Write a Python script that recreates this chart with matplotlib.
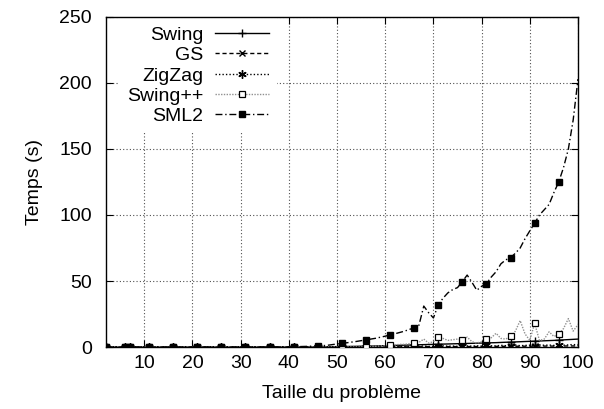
import matplotlib
matplotlib.use("Agg")
import matplotlib.pyplot as plt
import numpy as np

plt.rcParams['font.family'] = ['Liberation Sans', 'DejaVu Sans']

# problem sizes 2..100
x = list(range(2, 101))

sml2 = ([0.0] * 29 + [0.05] * 5 + [0.1] * 5 +
        [0.2, 0.3, 0.4, 0.5, 0.7, 0.8, 1.0, 1.3, 1.8, 2.3,          # 41-50
         2.8, 3.2, 3.7, 4.2, 4.8, 5.3, 6.0, 6.6, 7.4, 8.2,          # 51-60
         9.1, 10.0, 11.0, 12.0, 13.3, 14.5, 16.5, 31.0, 26.0, 22.0,  # 61-70
         32.0, 37.0, 41.0, 43.5, 45.0, 49.5, 54.5, 49.0, 43.0, 46.0,  # 71-80
         48.0, 53.0, 57.0, 63.0, 66.0, 67.7, 71.0, 75.0, 82.0, 88.0,  # 81-90
         93.7, 100.0, 104.0, 108.0, 117.0, 125.0, 136.0, 150.0, 172.0, 203.0])  # 91-100

swingpp = ([0.0] * 54 +
           [0.3, 0.5, 0.6, 0.8, 1.0, 1.5, 1.5, 2.0, 2.0, 2.5,        # 56-65
            3.3, 3.5, 6.0, 3.0, 4.0, 7.3, 6.5, 5.0, 5.5, 6.0,        # 66-75
            5.0, 7.5, 4.0, 3.0, 4.0, 6.1, 7.0, 10.4, 6.5, 6.0,       # 76-85
            8.0, 12.0, 20.0, 10.0, 5.0, 18.0, 5.0, 6.0, 11.5, 8.0,   # 86-95
            9.6, 14.0, 21.5, 12.0, 17.0])                            # 96-100

swing = ([0.0] * 44 +
         [0.1, 0.1, 0.2, 0.2, 0.3, 0.35, 0.4, 0.45, 0.5, 0.6,         # 46-55
          0.65, 0.7, 0.8, 0.9, 1.0, 1.1, 1.2, 1.3, 1.4, 1.5,          # 56-65
          1.6, 1.7, 1.8, 1.9, 2.0, 2.1, 2.2, 2.3, 2.4, 2.5,           # 66-75
          2.6, 2.7, 2.8, 2.9, 3.0, 3.1, 3.2, 3.3, 3.45, 3.6,          # 76-85
          3.7, 3.85, 4.0, 4.15, 4.3, 4.4, 4.55, 4.7, 4.85, 5.0,       # 86-95
          5.2, 5.4, 5.6, 5.8, 6.0])                                   # 96-100

gs = ([0.0] * 59 +
      [0.05, 0.05, 0.1, 0.1, 0.1, 0.15, 0.15, 0.2, 0.2, 0.2,          # 61-70
       0.25, 0.25, 0.3, 0.3, 0.3, 0.35, 0.35, 0.4, 0.4, 0.4,          # 71-80
       0.45, 0.45, 0.5, 0.5, 0.5, 0.55, 0.55, 0.6, 0.6, 0.6,          # 81-90
       0.65, 0.65, 0.7, 0.7, 0.7, 0.75, 0.75, 0.8, 0.8, 0.8])         # 91-100

zigzag = ([0.0] * 59 +
          [0.1, 0.2, 0.3, 0.2, 0.4, 0.3, 0.5, 0.8, 0.4, 0.6,          # 61-70
           0.5, 0.9, 0.6, 0.7, 0.5, 1.0, 0.8, 0.6, 0.9, 0.7,          # 71-80
           1.2, 0.9, 0.8, 1.3, 1.0, 1.1, 1.5, 1.0, 1.2, 1.4,          # 81-90
           1.1, 1.6, 1.3, 1.5, 1.2, 1.8, 1.4, 1.6, 1.9, 1.5])         # 91-100

marker_x = [2, 6, 7] + list(range(11, 97, 5))
x_ticks = [10, 20, 30, 40, 50, 60, 70, 80, 90, 100]
y_ticks = [0, 50, 100, 150, 200, 250]

W, H = 604, 409
fig = plt.figure(figsize=(W / 100, H / 100), dpi=100)
L, R, T, B = 105.7, 578, 17, 347
ax = fig.add_axes([L / W, 1 - B / H, (R - L) / W, (B - T) / H])

idx = [x.index(v) for v in marker_x]

ax.plot(x, swing, color='black', lw=1.0, ls='-', marker='+', markersize=6,
        markevery=idx, label='Swing', zorder=3)
ax.plot(x, gs, color='black', lw=1.0, ls=(0, (3, 2)), marker='x', markersize=4.5,
        markevery=idx, label='GS', zorder=3)
ax.plot(x, zigzag, color='black', lw=1.0, ls=(0, (1, 1.5)), marker=(6, 2, 0), markersize=6,
        markevery=idx, label='ZigZag', zorder=3)
ax.plot(x, swingpp, color='#909090', lw=1.0, ls=(0, (1, 1)), marker='s', markersize=4.5,
        markerfacecolor='white', markeredgecolor='black', markeredgewidth=0.9,
        markevery=idx, label='Swing++', zorder=3)
ax.plot(x, sml2, color='black', lw=1.0, ls=(0, (5, 2, 1, 2)), marker='s', markersize=5,
        markerfacecolor='black', markeredgecolor='black',
        markevery=idx, label='SML2', zorder=4)

ax.set_xlim(2, 100)
ax.set_ylim(0, 250)
ax.set_xticks(x_ticks)
ax.set_yticks(y_ticks)
ax.tick_params(direction='in', top=True, right=True, length=5, width=0.8,
               labelsize=14)
ax.tick_params(axis='y', pad=10)
ax.tick_params(axis='x', pad=6)
ax.grid(True, color='#505050', ls=(0, (1, 2)), lw=0.8)
for s in ax.spines.values():
    s.set_linewidth(1.0)

ax.set_xlabel('Taille du problème', fontsize=14, labelpad=9)
ax.set_ylabel('Temps (s)', fontsize=14, labelpad=12)

leg = ax.legend(loc='upper left',
                bbox_to_anchor=((119 - L) / (R - L), 1.0 - 1.5 / (B - T)),
                frameon=True, facecolor='white', edgecolor='none', framealpha=1.0,
                fancybox=False, markerfirst=False, fontsize=14, handlelength=2.8,
                handletextpad=0.6, labelspacing=0.14, borderpad=0.4,
                borderaxespad=0.0, numpoints=1)
for col in leg._legend_handle_box.get_children():
    col.align = 'right'
leg.set_zorder(2)

fig.savefig('out.png', dpi=100)
